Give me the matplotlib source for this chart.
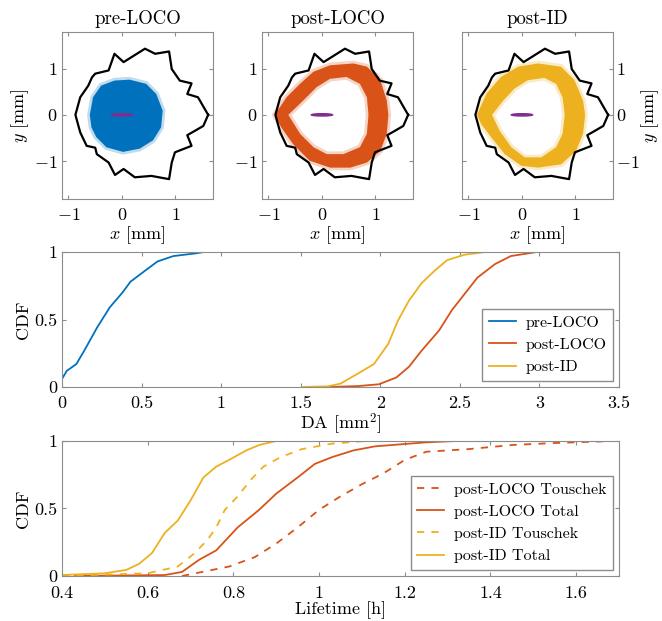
import numpy as np
import matplotlib
matplotlib.use('Agg')
import matplotlib.pyplot as plt
from matplotlib.path import Path
from matplotlib.patches import PathPatch, Ellipse

plt.rcParams['font.family'] = 'serif'
plt.rcParams['font.serif'] = ['cmr10']
plt.rcParams['mathtext.fontset'] = 'cm'
plt.rcParams['axes.formatter.use_mathtext'] = True
plt.rcParams['font.size'] = 13

C_BLUE = '#0072BD'
C_RED = '#D95319'
C_YEL = '#EDB120'
C_PUR = '#7E2F8E'

# Dynamic aperture boundary (mm)
da_x = [1.61, 1.42, 1.22, 1.30, 1.08, 0.93, 0.88, 0.62, 0.43, 0.03, -0.14, -0.25,
        -0.50, -0.56, -0.63, -0.78, -0.87, -0.78, -0.66, -0.50, -0.47, -0.25,
        -0.13, 0.03, 0.24, 0.55, 0.88, 0.93, 0.99, 1.30, 1.22, 1.52, 1.61]
da_y = [0.00, 0.38, 0.45, 0.68, 0.74, 0.99, 1.37, 1.32, 1.43, 1.14, 1.32, 0.96,
        0.89, 0.81, 0.63, 0.38, 0.00, -0.38, -0.67, -0.71, -0.85, -1.03,
        -1.30, -1.17, -1.35, -1.32, -1.39, -1.03, -0.81, -0.67, -0.44, -0.24, 0.00]

# particle cloud outlines (mm)
pre_x = [-0.60, -0.54, -0.39, -0.14, 0.14, 0.45, 0.64, 0.76, 0.73, 0.58, 0.33, 0.02, -0.29, -0.48, -0.57]
pre_y = [0.00, 0.38, 0.63, 0.74, 0.76, 0.67, 0.45, 0.09, -0.27, -0.55, -0.73, -0.80, -0.70, -0.48, -0.27]

loco_out_x = [-0.88, -0.66, -0.41, -0.16, 0.15, 0.59, 0.84, 1.09, 1.21, 1.24, 1.21, 1.09, 0.84, 0.53, 0.15, -0.23, -0.54, -0.76]
loco_out_y = [0.00, 0.38, 0.67, 0.93, 1.07, 1.11, 1.04, 0.75, 0.31, 0.00, -0.41, -0.78, -1.03, -1.14, -1.14, -0.99, -0.63, -0.27]
loco_in_x = [-0.63, -0.35, -0.10, 0.15, 0.46, 0.71, 0.84, 0.87, 0.84, 0.71, 0.40, 0.09, -0.16, -0.41]
loco_in_y = [0.00, 0.31, 0.60, 0.78, 0.82, 0.67, 0.38, 0.00, -0.41, -0.70, -0.85, -0.85, -0.70, -0.41]

id_out_x = [-0.84, -0.66, -0.39, -0.07, 0.30, 0.73, 0.98, 1.14, 1.18, 1.14, 1.01, 0.73, 0.30, -0.01, -0.32, -0.57, -0.76]
id_out_y = [0.00, 0.46, 0.82, 1.04, 1.11, 1.04, 0.75, 0.31, 0.00, -0.41, -0.78, -1.07, -1.14, -1.10, -0.85, -0.49, -0.20]
id_in_x = [-0.56, -0.35, -0.14, 0.11, 0.42, 0.64, 0.76, 0.80, 0.76, 0.64, 0.36, 0.05, -0.20, -0.42]
id_in_y = [0.00, 0.31, 0.57, 0.75, 0.80, 0.67, 0.38, 0.00, -0.41, -0.70, -0.92, -0.92, -0.70, -0.34]

# DA CDFs
da_pre_x = [0.00, 0.03, 0.09, 0.14, 0.22, 0.30, 0.38, 0.43, 0.52, 0.60, 0.70, 0.84, 0.89, 1.13]
da_pre_c = [0.06, 0.12, 0.17, 0.27, 0.44, 0.59, 0.70, 0.78, 0.86, 0.93, 0.97, 0.99, 1.00, 1.00]
da_loco_x = [1.67, 1.86, 1.99, 2.10, 2.18, 2.26, 2.37, 2.45, 2.53, 2.61, 2.72, 2.82, 2.93, 2.98, 3.15]
da_loco_c = [0.00, 0.007, 0.02, 0.07, 0.15, 0.27, 0.42, 0.57, 0.69, 0.81, 0.91, 0.97, 0.99, 1.00, 1.00]
da_id_x = [1.51, 1.67, 1.75, 1.86, 1.96, 2.05, 2.11, 2.18, 2.26, 2.34, 2.42, 2.53, 2.66]
da_id_c = [0.00, 0.005, 0.025, 0.10, 0.17, 0.32, 0.49, 0.64, 0.77, 0.86, 0.94, 0.98, 1.00]

# lifetime CDFs
lt_id_tot_x = [0.40, 0.50, 0.55, 0.58, 0.61, 0.64, 0.67, 0.70, 0.73, 0.76, 0.79, 0.83, 0.86, 0.90, 1.00]
lt_id_tot_c = [0.007, 0.02, 0.045, 0.09, 0.17, 0.32, 0.41, 0.56, 0.73, 0.81, 0.86, 0.93, 0.97, 1.00, 1.00]
lt_id_tou_x = [0.40, 0.60, 0.67, 0.71, 0.74, 0.76, 0.78, 0.81, 0.84, 0.87, 0.91, 0.96, 1.03, 1.11, 1.21]
lt_id_tou_c = [0.00, 0.02, 0.07, 0.17, 0.27, 0.36, 0.49, 0.59, 0.71, 0.81, 0.88, 0.94, 0.98, 1.00, 1.00]
lt_loco_tot_x = [0.43, 0.64, 0.68, 0.72, 0.76, 0.81, 0.86, 0.90, 0.95, 0.99, 1.03, 1.08, 1.13, 1.21, 1.25, 1.32]
lt_loco_tot_c = [0.00, 0.007, 0.03, 0.12, 0.19, 0.36, 0.49, 0.61, 0.73, 0.83, 0.88, 0.93, 0.96, 0.98, 0.99, 1.00]
lt_loco_tou_x = [0.68, 0.79, 0.85, 0.90, 0.95, 1.00, 1.05, 1.10, 1.15, 1.20, 1.25, 1.35, 1.45, 1.55, 1.69]
lt_loco_tou_c = [0.00, 0.07, 0.14, 0.24, 0.36, 0.49, 0.59, 0.68, 0.76, 0.86, 0.92, 0.94, 0.97, 0.985, 1.00]


def style(ax):
    for s in ax.spines.values():
        s.set_color('#8c8c8c')
        s.set_linewidth(0.8)
    ax.tick_params(direction='in', top=True, right=True, length=3,
                   color='#8c8c8c', labelcolor='black')
    ax.tick_params(axis='x', pad=6)


def cloud(ax, ox, oy, color, ix=None, iy=None):
    verts = list(zip(ox, oy)) + [(ox[0], oy[0])]
    codes = [Path.MOVETO] + [Path.LINETO] * (len(ox) - 1) + [Path.CLOSEPOLY]
    if ix is not None:
        iv = list(zip(ix[::-1], iy[::-1]))
        verts += iv + [iv[0]]
        codes += [Path.MOVETO] + [Path.LINETO] * (len(iv) - 1) + [Path.CLOSEPOLY]
    path = Path(verts, codes)
    ax.add_patch(PathPatch(path, facecolor=color, edgecolor=color, lw=4,
                           alpha=0.25, zorder=1))
    ax.add_patch(PathPatch(path, facecolor=color, edgecolor='none', zorder=2))


fig = plt.figure(figsize=(6.62, 6.21), dpi=100)

tops = [
    ('pre-LOCO', 0.0937, C_BLUE, pre_x, pre_y, None, None),
    ('post-LOCO', 0.3958, C_RED, loco_out_x, loco_out_y, loco_in_x, loco_in_y),
    ('post-ID', 0.6979, C_YEL, id_out_x, id_out_y, id_in_x, id_in_y),
]
for i, (title, left, col, ox, oy, ix, iy) in enumerate(tops):
    ax = fig.add_axes([left, 0.6795, 0.228, 0.2689])
    cloud(ax, ox, oy, col, ix, iy)
    ax.plot(da_x, da_y, color='black', lw=1.6, zorder=3)
    ax.add_patch(Ellipse((0, 0), 0.4, 0.05, color=C_PUR, zorder=4))
    ax.set_xlim(-1.12, 1.7)
    ax.set_ylim(-1.82, 1.79)
    ax.set_xticks([-1, 0, 1])
    ax.set_yticks([-1, 0, 1])
    ax.set_title(title, fontsize=13.5, pad=6)
    ax.set_xlabel(r'$x$ [mm]', labelpad=1)
    style(ax)
    if i == 0:
        ax.set_ylabel(r'$y$ [mm]', labelpad=2)
    if i == 2:
        ax.yaxis.tick_right()
        ax.yaxis.set_label_position('right')
        ax.tick_params(left=True, labelleft=False, labelright=True, axis='y', pad=2)
        ax.set_ylabel(r'$y$ [mm]', labelpad=0, rotation=90)

leg_kw = dict(loc='lower right', fancybox=False, edgecolor='#8c8c8c', framealpha=1,
              handlelength=1.7, handletextpad=0.6, borderaxespad=0.4, fontsize=11.5)

# DA CDF
ax = fig.add_axes([0.0937, 0.3768, 0.8414, 0.2174])
ax.plot(da_pre_x, da_pre_c, color=C_BLUE, lw=1.3, label='pre-LOCO')
ax.plot(da_loco_x, da_loco_c, color=C_RED, lw=1.3, label='post-LOCO')
ax.plot(da_id_x, da_id_c, color=C_YEL, lw=1.3, label='post-ID')
ax.set_xlim(0, 3.5)
ax.set_ylim(0, 1)
ax.set_xticks(np.arange(0, 3.51, 0.5))
ax.set_yticks([0, 0.5, 1])
ax.set_xticklabels(['0', '0.5', '1', '1.5', '2', '2.5', '3', '3.5'])
ax.set_yticklabels(['0', '0.5', '1'])
ax.set_xlabel(r'DA [mm$^2$]', labelpad=1)
ax.set_ylabel('CDF', labelpad=2)
style(ax)
ax.legend(**leg_kw)

# Lifetime CDF
ax = fig.add_axes([0.0937, 0.0725, 0.8414, 0.2174])
ax.plot(lt_loco_tou_x, lt_loco_tou_c, color=C_RED, lw=1.3, ls=(0, (4, 4)), label='post-LOCO Touschek')
ax.plot(lt_loco_tot_x, lt_loco_tot_c, color=C_RED, lw=1.3, label='post-LOCO Total')
ax.plot(lt_id_tou_x, lt_id_tou_c, color=C_YEL, lw=1.3, ls=(0, (4, 4)), label='post-ID Touschek')
ax.plot(lt_id_tot_x, lt_id_tot_c, color=C_YEL, lw=1.3, label='post-ID Total')
ax.set_xlim(0.4, 1.7)
ax.set_ylim(0, 1)
ax.set_xticks(np.arange(0.4, 1.61, 0.2))
ax.set_xticklabels(['0.4', '0.6', '0.8', '1', '1.2', '1.4', '1.6'])
ax.set_yticks([0, 0.5, 1])
ax.set_yticklabels(['0', '0.5', '1'])
ax.set_xlabel('Lifetime [h]', labelpad=0)
ax.set_ylabel('CDF', labelpad=2)
style(ax)
ax.tick_params(axis='x', pad=7)
ax.legend(**leg_kw)

fig.savefig('out.png', dpi=100)
